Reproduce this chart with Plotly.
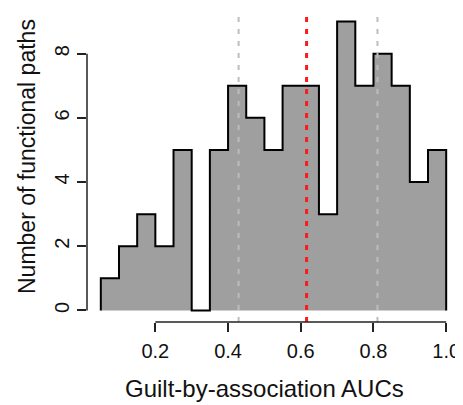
import plotly.graph_objects as go

# Data
bin_edges = [0.05, 0.10, 0.15, 0.20, 0.25, 0.30, 0.35, 0.40, 0.45, 0.50,
             0.55, 0.60, 0.65, 0.70, 0.75, 0.80, 0.85, 0.90, 0.95, 1.00]
counts = [1, 2, 3, 2, 5, 0, 5, 7, 6, 5, 7, 7, 3, 9, 7, 8, 7, 4, 5]
gray_lines = [0.429, 0.811]
red_line = [0.616]
x_ticks = [0.2, 0.4, 0.6, 0.8, 1.0]
x_ticklabels = ["0.2", "0.4", "0.6", "0.8", "1.0"]
y_ticks = [0, 2, 4, 6, 8]
y_ticklabels = ["0", "2", "4", "6", "8"]

FONT = "Liberation Sans, Arial, Helvetica, sans-serif"

X_RANGE = [0.012, 1.038]
Y_RANGE = [-0.36, 9.36]

step_x = [bin_edges[0]] + bin_edges[:-1] + [bin_edges[-1]]
step_y = [0] + counts + [0]

fig = go.Figure()
fig.add_trace(go.Scatter(
    x=step_x, y=step_y, mode="lines", line=dict(shape="hv", color="black", width=2),
    fill="tozeroy", fillcolor="#9f9f9f", hoverinfo="skip", showlegend=False))


def xp(v):
    return (v - X_RANGE[0]) / (X_RANGE[1] - X_RANGE[0])


def yp(v):
    return (v - Y_RANGE[0]) / (Y_RANGE[1] - Y_RANGE[0])


shapes = []
for v in gray_lines:
    shapes.append(dict(type="line", xref="x", yref="paper", x0=v, x1=v, y0=0, y1=1,
                       line=dict(color="#bdbdbd", width=2, dash="5px,7px"), layer="above"))
for v in red_line:
    shapes.append(dict(type="line", xref="x", yref="paper", x0=v, x1=v, y0=0, y1=1,
                       line=dict(color="#ff1a1a", width=3, dash="5px,7px"), layer="above"))
# R-style axis lines spanning first to last tick (paper refs so they are not clipped)
shapes.append(dict(type="line", xref="paper", yref="paper", x0=xp(x_ticks[0]), x1=xp(x_ticks[-1]),
                   y0=0, y1=0, line=dict(color="#222", width=1.5), layer="above"))
shapes.append(dict(type="line", xref="paper", yref="paper", x0=0, x1=0,
                   y0=yp(y_ticks[0]), y1=yp(y_ticks[-1]),
                   line=dict(color="#222", width=1.5), layer="above"))

# page has an 8px body margin; figure sized so the whole page is 463x405
OFF = 8
W, H = 463 - OFF, 405 - OFF
L, R, T, B = 87 - OFF, 3, 10 - OFF, 83
PW, PH = W - L - R, H - T - B
PLOT_BOTTOM = OFF + T + PH  # page pixel of plot bottom

fig.update_layout(
    width=W, height=H,
    margin=dict(l=L, r=R, t=T, b=B, autoexpand=False),
    paper_bgcolor="white", plot_bgcolor="white",
    font=dict(family=FONT, size=20, color="#111"),
    shapes=shapes,
    xaxis=dict(range=X_RANGE, tickvals=x_ticks, ticktext=x_ticklabels,
               ticks="outside", ticklen=9, tickwidth=1.5, tickcolor="#222",
               showgrid=False, zeroline=False, showline=False, automargin=False,
               tickfont=dict(size=20), ticklabelstandoff=2, ticklabeloverflow="allow"),
    yaxis=dict(range=Y_RANGE, tickvals=y_ticks, ticktext=y_ticklabels,
               ticks="outside", ticklen=9, tickwidth=1.5, tickcolor="#222",
               showgrid=False, zeroline=False, showline=False, automargin=False,
               tickangle=-90, tickfont=dict(size=20), ticklabelstandoff=0,
               ticklabeloverflow="allow"),
    annotations=[
        dict(text="Guilt-by-association AUCs", xref="paper", yref="paper",
             x=(264 - OFF - L) / PW, y=-(388 - PLOT_BOTTOM) / PH, showarrow=False,
             font=dict(size=24), xanchor="center", yanchor="middle"),
        dict(text="Number of functional paths", xref="paper", yref="paper",
             x=(27 - OFF - L) / PW, y=(PLOT_BOTTOM - 157) / PH, showarrow=False, textangle=-90,
             font=dict(size=23), xanchor="center", yanchor="middle"),
    ],
)

fig.write_html("out.html")
